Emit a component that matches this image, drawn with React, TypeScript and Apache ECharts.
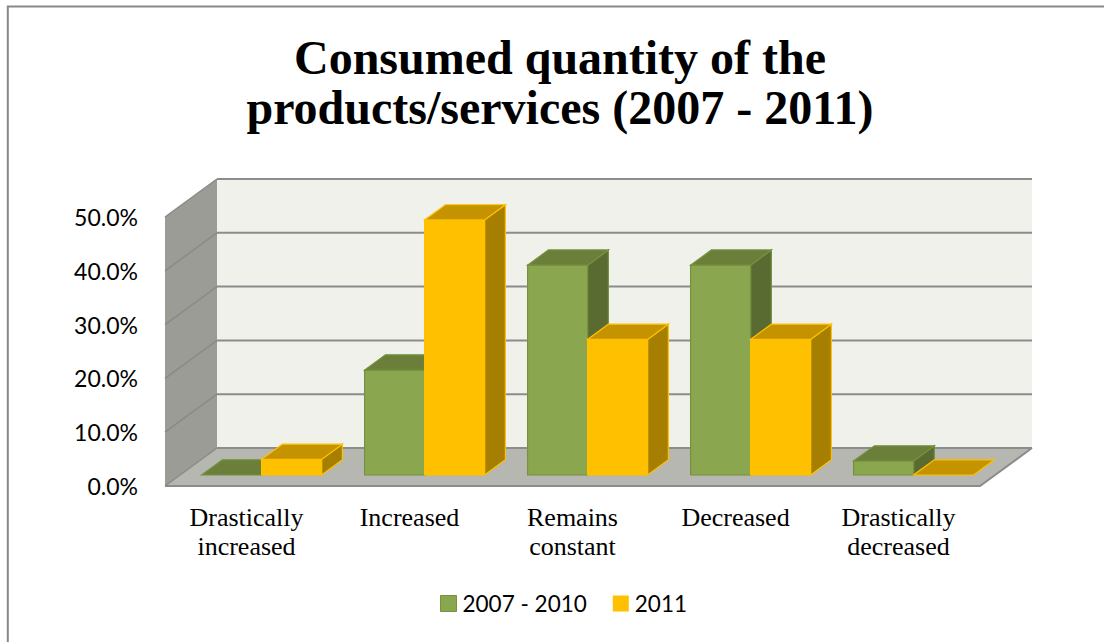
import React, { useEffect, useRef } from "react";
import * as echarts from "echarts";

const categories = [
  "Drastically\nincreased",
  "Increased",
  "Remains\nconstant",
  "Decreased",
  "Drastically\ndecreased",
];
const seriesNames = ["2007 - 2010", "2011"];
const values20072010 = [0, 19.5, 39.0, 39.0, 2.6];
const values2011 = [2.9, 47.4, 25.2, 25.2, 0];
const yTicks = [0, 10, 20, 30, 40, 50];
const titleLines = ["Consumed quantity of the", "products/services (2007 - 2011)"];

// 3D look (pixel offsets of the depth direction)
const DEPTH_DX = 52;
const DEPTH_DY = -38;
const FRONT_F = 0.29;
const BACK_F = 0.69;
const BAR_FRAC = 0.368;

const greenColors = { front: "#8AA64F", top: "#6B7F3B", side: "#5A6B32", edge: "#76913F" };
const yellowColors = { front: "#FFC000", top: "#C59300", side: "#A67E00", edge: "#FFC000" };

function makeBarRenderer(seriesIdx: number, c: any) {
  return (params: any, api: any) => {
    const i = api.value(0);
    const v = api.value(1);
    const top = api.coord([i, v]);
    const base = api.coord([i, 0]);
    const band = api.size([1, 0])[0];
    const w = band * BAR_FRAC;
    const fx = DEPTH_DX * FRONT_F;
    const fy = DEPTH_DY * FRONT_F;
    const ddx = DEPTH_DX * (BACK_F - FRONT_F);
    const ddy = DEPTH_DY * (BACK_F - FRONT_F);
    const x0 = top[0] + fx + (seriesIdx === 0 ? -w : 0);
    const x1 = x0 + w;
    const yt = top[1] + fy;
    const yb = base[1] + fy;
    const children: any[] = [];
    const lw = 1.2;
    if (yb - yt > 0.5) {
      children.push({
        type: "polygon",
        shape: { points: [[x1, yb], [x1 + ddx, yb + ddy], [x1 + ddx, yt + ddy], [x1, yt]] },
        style: { fill: c.side, stroke: c.edge, lineWidth: lw },
      });
      children.push({
        type: "polygon",
        shape: { points: [[x0, yb], [x1, yb], [x1, yt], [x0, yt]] },
        style: { fill: c.front, stroke: c.edge, lineWidth: lw },
      });
    }
    children.push({
      type: "polygon",
      shape: { points: [[x0, yt], [x1, yt], [x1 + ddx, yt + ddy], [x0 + ddx, yt + ddy]] },
      style: { fill: c.top, stroke: c.edge, lineWidth: lw },
    });
    return { type: "group", children };
  };
}

function wallsRenderer(params: any, api: any) {
  const cs = params.coordSys;
  const gx = cs.x;
  const gw = cs.width;
  const yBottom = api.coord([0, yTicks[0]])[1];
  const yTop = api.coord([0, yTicks[yTicks.length - 1]])[1];
  const children: any[] = [];
  children.push({
    type: "polygon",
    shape: {
      points: [
        [gx + DEPTH_DX, yTop + DEPTH_DY],
        [gx + gw + DEPTH_DX, yTop + DEPTH_DY],
        [gx + gw + DEPTH_DX, yBottom + DEPTH_DY],
        [gx + DEPTH_DX, yBottom + DEPTH_DY],
      ],
    },
    style: { fill: "#EFF1EA" },
  });
  children.push({
    type: "polygon",
    shape: {
      points: [
        [gx, yTop],
        [gx + DEPTH_DX, yTop + DEPTH_DY],
        [gx + DEPTH_DX, yBottom + DEPTH_DY],
        [gx, yBottom],
      ],
    },
    style: { fill: "#9A9C95" },
  });
  children.push({
    type: "polygon",
    shape: {
      points: [
        [gx, yBottom],
        [gx + DEPTH_DX, yBottom + DEPTH_DY],
        [gx + gw + DEPTH_DX, yBottom + DEPTH_DY],
        [gx + gw, yBottom],
      ],
    },
    style: { fill: "#B5B7B0" },
  });
  yTicks.forEach((t) => {
    const y = api.coord([0, t])[1];
    children.push({
      type: "line",
      shape: { x1: gx, y1: y, x2: gx + DEPTH_DX, y2: y + DEPTH_DY },
      style: { stroke: "#8A8A8A", lineWidth: 1.5 },
    });
    children.push({
      type: "line",
      shape: { x1: gx + DEPTH_DX, y1: y + DEPTH_DY, x2: gx + gw + DEPTH_DX, y2: y + DEPTH_DY },
      style: { stroke: "#8C8C8C", lineWidth: 2 },
    });
  });
  children.push({
    type: "polyline",
    shape: {
      points: [
        [gx, yBottom],
        [gx + gw, yBottom],
        [gx + gw + DEPTH_DX, yBottom + DEPTH_DY],
      ],
    },
    style: { stroke: "#8C8C8C", lineWidth: 2, fill: "none" },
  });
  return { type: "group", children };
}

export default function App() {
  const ref = useRef<HTMLDivElement>(null);
  useEffect(() => {
    if (!ref.current) return;
    const chart = echarts.init(ref.current, null, { renderer: "svg" });
    const option: any = {
      animation: false,
      backgroundColor: "#ffffff",
      graphic: [
        {
          type: "rect",
          shape: { x: 7.8, y: 6.5, width: 1300, height: 800 },
          style: { fill: "none", stroke: "#888888", lineWidth: 2 },
          silent: true,
        },
        {
          type: "text",
          x: 560,
          y: 57,
          style: {
            text: titleLines[0],
            font: "bold 48px 'Liberation Serif'",
            fill: "#000",
            align: "center",
            verticalAlign: "middle",
          },
        },
        {
          type: "text",
          x: 560,
          y: 107,
          style: {
            text: titleLines[1],
            font: "bold 48px 'Liberation Serif'",
            fill: "#000",
            align: "center",
            verticalAlign: "middle",
          },
        },
      ],
      legend: {
        left: 440,
        top: 592,
        padding: 0,
        itemWidth: 16,
        itemHeight: 16,
        itemGap: 26,
        data: [
          { name: seriesNames[0], icon: "rect", itemStyle: { color: greenColors.front, borderColor: greenColors.edge, borderWidth: 1 } },
          { name: seriesNames[1], icon: "rect", itemStyle: { color: yellowColors.front } },
        ],
        textStyle: { fontFamily: "Lato", fontSize: 22.5, color: "#000", padding: [0, 0, 0, 1] },
      },
      grid: { left: 165, top: 217, width: 815, height: 269 },
      xAxis: {
        type: "category",
        data: categories,
        boundaryGap: true,
        axisLine: { show: false },
        axisTick: { show: false },
        axisLabel: {
          interval: 0,
          margin: 17,
          fontFamily: "Liberation Serif",
          fontSize: 26,
          lineHeight: 29,
          color: "#000",
          align: "center",
        },
      },
      yAxis: {
        type: "value",
        min: yTicks[0],
        max: yTicks[yTicks.length - 1],
        interval: yTicks[1] - yTicks[0],
        axisLine: { show: false },
        axisTick: { show: false },
        splitLine: { show: false },
        axisLabel: {
          margin: 27,
          fontFamily: "Lato",
          fontSize: 23,
          color: "#000",
          formatter: (v: number) => v.toFixed(1) + "%",
        },
      },
      series: [
        {
          type: "custom",
          name: "walls",
          silent: true,
          clip: false,
          z: 1,
          renderItem: wallsRenderer,
          data: [[0, 0]],
          encode: { x: 0, y: 1 },
        },
        {
          type: "custom",
          name: seriesNames[0],
          clip: false,
          z: 2,
          itemStyle: { color: greenColors.front },
          renderItem: makeBarRenderer(0, greenColors),
          data: values20072010.map((v, i) => [i, v]),
          encode: { x: 0, y: 1 },
        },
        {
          type: "custom",
          name: seriesNames[1],
          clip: false,
          z: 3,
          itemStyle: { color: yellowColors.front },
          renderItem: makeBarRenderer(1, yellowColors),
          data: values2011.map((v, i) => [i, v]),
          encode: { x: 0, y: 1 },
        },
      ],
    };
    chart.setOption(option);
    return () => chart.dispose();
  }, []);
  return (
    <div
      ref={ref}
      style={{ position: "fixed", left: 0, top: 0, width: 1104, height: 642 }}
    />
  );
}
